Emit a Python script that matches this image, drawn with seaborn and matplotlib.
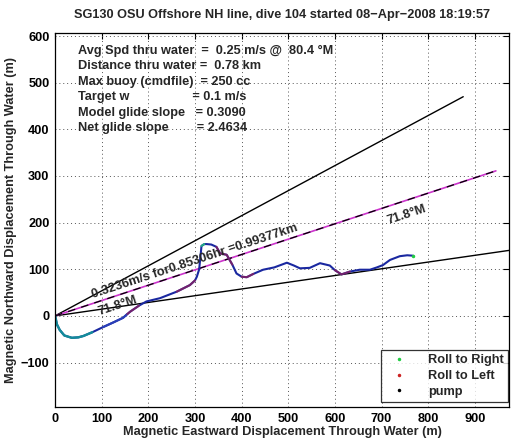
import numpy as np
import pandas as pd
import matplotlib
matplotlib.use("Agg")
import matplotlib.pyplot as plt
from matplotlib.lines import Line2D
import seaborn as sns

# ---------------- data ----------------
title = "SG130 OSU Offshore NH line, dive 104 started 08\u2212Apr\u22122008 18:19:57"
xlabel = "Magnetic Eastward Displacement Through Water (m)"
ylabel = "Magnetic Northward Displacement Through Water (m)"

traj_x = [0, 2, 4, 10, 20, 36, 50, 61, 80, 103, 125, 146, 155, 161, 180, 196, 225, 261, 289,
          300, 304, 309, 311, 314, 320, 325, 335, 346, 354, 368, 380, 389, 400, 411, 425, 446,
          470, 497, 512, 525, 546, 568, 589, 600, 614, 632, 653, 675, 690, 703, 718, 739, 755, 768]
traj_y = [0, -8, -18, -30, -42, -47, -46, -43, -35, -24, -14, -4, 4, 9, 22, 31, 38, 52, 66,
          76, 84, 100, 120, 150, 154, 154, 153, 148, 134, 131, 110, 91, 84, 83, 90, 99,
          104, 114, 108, 102, 103, 113, 108, 98, 89, 95, 99, 99, 104, 109, 120, 128, 130, 129]

# heading lines from origin (end points)
line_upper = ([0, 875], [0, 470])
line_mid = ([0, 945], [0, 311])
line_lower = ([0, 984], [0, 142])

# annotation text
info_lines = ["Avg Spd thru water  =  0.25 m/s @  80.4 \u00b0M",
              "Distance thru water =  0.78 km",
              "Max buoy (cmdfile)  = 250 cc",
              "Target w                  = 0.1 m/s",
              "Model glide slope   = 0.3090",
              "Net glide slope        = 2.4634"]
label_long = "0.3236m/s for0.85306hr =0.99377km"
label_head = "71.8\u00b0M"

xticks = [0, 100, 200, 300, 400, 500, 600, 700, 800, 900]
yticks = [-100, 0, 100, 200, 300, 400, 500, 600]

# ---------------- style ----------------
sns.set_theme(style="white")
plt.rcParams["font.family"] = ["Liberation Sans", "DejaVu Sans"]
plt.rcParams["font.weight"] = "bold"
plt.rcParams["axes.labelweight"] = "bold"
plt.rcParams["axes.titleweight"] = "bold"

FS = 9.2

fig = plt.figure(figsize=(5.22, 4.42), dpi=100)
ax = fig.add_axes([0.1054, 0.0785, 0.8696, 0.8462])

# heading lines
ax.plot(*line_upper, color="black", lw=1.0)
ax.plot(*line_lower, color="black", lw=1.0)
ax.plot(*line_mid, color="#cc33cc", lw=1.2)
ax.plot(*line_mid, color="black", lw=0.9, dashes=(6, 5))

# trajectory
df = pd.DataFrame({"x": traj_x, "y": traj_y})
sns.lineplot(data=df, x="x", y="y", sort=False, color="#1a28a0", lw=1.5, ax=ax, estimator=None)
ax.plot(traj_x[:9], traj_y[:9], color="#138c9a", lw=1.7)
ax.plot(traj_x[9:13], traj_y[9:13], color="#2a3fb8", lw=1.5)
# roll-left segments
for a, b in [(12, 14), (17, 19), (27, 30), (32, 34), (43, 45)]:
    ax.plot(traj_x[a:b + 1], traj_y[a:b + 1], color="#8a2060", lw=1.5, alpha=0.8)
ax.plot([traj_x[23], traj_x[24]], [traj_y[23], traj_y[24]], color="#22aa88", lw=1.5)
ax.plot([traj_x[-1]], [traj_y[-1]], ".", color="#22cc44", ms=3)

# texts
for i, t in enumerate(info_lines):
    ax.text(0.051, 0.969 - i * 0.0415, t, transform=ax.transAxes, fontsize=FS,
            fontweight="bold", va="top", ha="left")
ax.text(82, 38, label_long, rotation=18.2, rotation_mode="anchor", ha="left",
        va="baseline", fontsize=FS, fontweight="bold")
ax.text(96, 2, label_head, rotation=18.2, rotation_mode="anchor", ha="left",
        va="baseline", fontsize=FS, fontweight="bold")
ax.text(714, 196, label_head, rotation=18.2, rotation_mode="anchor", ha="left",
        va="baseline", fontsize=FS, fontweight="bold")

# axes
ax.set_xlim(0, 973)
ax.set_ylim(-196, 606)
ax.set_xticks(xticks)
ax.set_yticks(yticks)
ax.set_xticklabels([str(v).replace("-", "\u2212") for v in xticks], fontsize=FS, fontweight="bold")
ax.set_yticklabels([str(v).replace("-", "\u2212") for v in yticks], fontsize=FS, fontweight="bold")
ax.tick_params(direction="in", length=4, width=0.8, top=True, right=True, pad=4, colors="black")
ax.grid(True, linestyle=(0, (1, 3)), color="#555555", lw=0.7)
for s in ax.spines.values():
    s.set_color("black")
    s.set_linewidth(0.9)
ax.set_xlabel(xlabel, fontsize=FS, fontweight="bold", labelpad=1)
ax.set_ylabel(ylabel, fontsize=FS, fontweight="bold", labelpad=3)
ax.set_title(title, fontsize=FS, fontweight="bold", pad=11)

handles = [Line2D([], [], ls="none", marker=".", ms=3, color="#22cc44"),
           Line2D([], [], ls="none", marker=".", ms=3, color="#cc2222"),
           Line2D([], [], ls="none", marker=".", ms=3, color="black")]
leg = ax.legend(handles, ["Roll to Right", "Roll to Left", "pump"], loc="lower right",
                bbox_to_anchor=(0.9985, 0.013), prop={"size": FS, "weight": "bold"},
                frameon=True, fancybox=False, handlelength=2.0, handletextpad=1.3,
                borderpad=0.35, labelspacing=0.3, borderaxespad=0)
leg.get_frame().set_edgecolor("black")
leg.get_frame().set_linewidth(0.9)

fig.savefig("out.png", dpi=100)
